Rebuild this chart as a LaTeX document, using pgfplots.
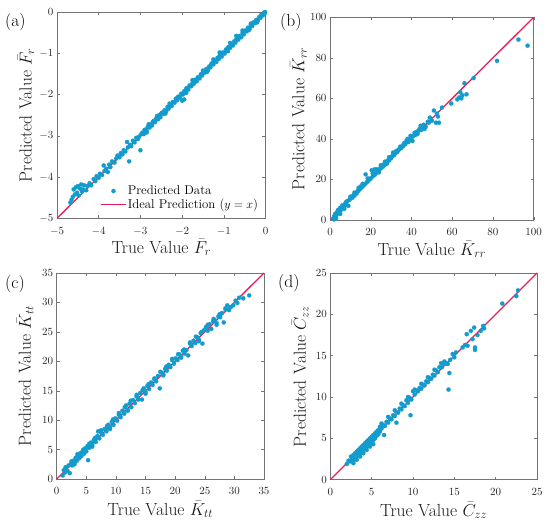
\documentclass[border=0pt]{standalone}
\usepackage{pgfplots}
\pgfplotsset{compat=1.18}
\definecolor{dotc}{RGB}{18,156,206}
\definecolor{linec}{RGB}{238,26,88}
\pgfplotsset{
  panel/.style={
    scale only axis,
    anchor=south west,
    tick align=inside,
    major tick length=3pt,
    axis line style={black!55, line width=0.5pt},
    tick style={black!55, line width=0.4pt},
    xtick pos=both, ytick pos=both,
    tick label style={font=\fontsize{11}{12}\selectfont, text=black!85},
    xticklabel style={inner sep=1pt, yshift=-7.5pt},
    label style={font=\fontsize{17.5}{20}\selectfont, text=black!90, inner sep=0.5pt},
    xlabel style={anchor=base},
    ylabel style={anchor=base},
  },
  dots/.style={only marks, mark=*, mark size=2.1pt, color=dotc, mark options={draw=dotc, fill=dotc, line width=0.2pt}},
  ideal/.style={linec, line width=1.3pt, no marks},
  dotleg/.style={legend image code/.code={\draw[mark repeat=2,mark phase=2,##1] plot coordinates {(0pt,0pt) (12.5pt,0pt) (25pt,0pt)};}},
  lineleg/.style={legend image code/.code={\draw[##1] (0pt,0pt) -- (25pt,0pt);}},
}
\begin{document}
\begin{tikzpicture}
\useasboundingbox (0,0) rectangle (550pt,527pt);
\node[anchor=north west, inner sep=0, font=\fontsize{17.5}{20}\selectfont] at (5pt,514pt) {(a)};
\node[anchor=north west, inner sep=0, font=\fontsize{17.5}{20}\selectfont] at (280pt,514pt) {(b)};
\node[anchor=north west, inner sep=0, font=\fontsize{17.5}{20}\selectfont] at (5pt,252pt) {(c)};
\node[anchor=north west, inner sep=0, font=\fontsize{17.5}{20}\selectfont] at (278pt,253pt) {(d)};

% (a)
\begin{axis}[panel, at={(57pt,308.7pt)}, width=208.5pt, height=206.3pt,
  xmin=-5, xmax=0, ymin=-5, ymax=0, xtick={-5,...,0}, ytick={-5,...,0},
  xlabel={True Value $\bar{F}_r$}, ylabel={Predicted Value $\bar{F}_r$},
  xlabel style={at={(axis description cs:0.5,-0.170)}},
  ylabel style={at={(axis description cs:-0.122,0.5)}},
  legend style={draw=none, fill=none, at={(0.985,0.025)}, anchor=south east,
    font=\fontsize{12.8}{14}\selectfont, nodes={inner sep=1.2pt}},
  legend cell align=left]
\addplot[dots, dotleg] coordinates {
(-4.68,-4.62) (-4.65,-4.55) (-4.62,-4.48) (-4.60,-4.30) (-4.57,-4.42) (-4.55,-4.25)
(-4.52,-4.38) (-4.50,-4.22) (-4.48,-4.45) (-4.45,-4.28) (-4.42,-4.18) (-4.40,-4.35)
(-4.38,-4.30) (-4.35,-4.20) (-4.30,-4.32) (-4.27,-4.22) (-4.22,-4.15) (-4.18,-4.20)
(-4.12,-4.05) (-4.08,-4.10) (-4.05,-3.98) (-4.00,-4.02) (-3.97,-3.92) (-3.92,-3.95)
(-3.88,-3.72) (-3.86,-3.85) (-3.82,-3.80) (-3.78,-3.88) (-3.75,-3.70) (-3.72,-3.76)
(-3.68,-3.62) (-3.62,-3.65) (-3.58,-3.55) (-3.55,-3.48) (-3.50,-3.52) (-3.47,-3.42)
(-3.43,-3.45) (-3.40,-3.35) (-3.36,-3.38) (-3.32,-3.15) (-3.30,-3.28) (-3.27,-3.62)
(-3.25,-3.22) (-3.22,-3.25) (-3.18,-3.12) (-3.14,-3.16) (-3.10,-3.05) (-3.06,-3.08)
(-3.03,-3.02) (-3.00,-3.35) (-2.98,-2.96)
(-2.95,-2.92) (-2.92,-2.96) (-2.88,-2.85) (-2.85,-2.88) (-2.82,-2.78) (-2.78,-2.80)
(-2.75,-2.72) (-2.72,-2.75) (-2.68,-2.64) (-2.65,-2.67) (-2.62,-2.58) (-2.58,-2.60)
(-2.55,-2.50) (-2.52,-2.55) (-2.48,-2.44) (-2.45,-2.47) (-2.42,-2.38) (-2.38,-2.40)
(-2.35,-2.30) (-2.32,-2.34) (-2.28,-2.25) (-2.25,-2.28) (-2.22,-2.18) (-2.18,-2.20)
(-2.15,-2.10) (-2.12,-2.14) (-2.08,-2.05) (-2.05,-2.08) (-2.02,-1.98) (-1.98,-2.00)
(-1.95,-1.92) (-1.92,-1.95) (-1.88,-1.84) (-1.85,-1.88) (-1.82,-1.78) (-1.78,-1.80)
(-1.75,-1.72) (-1.72,-1.74) (-1.68,-1.64) (-1.65,-1.68) (-1.62,-1.58) (-1.58,-1.61)
(-1.55,-1.51) (-1.52,-1.54) (-1.48,-1.45) (-1.45,-1.47) (-1.42,-1.38) (-1.38,-1.41)
(-1.35,-1.32) (-1.32,-1.34) (-1.28,-1.24) (-1.25,-1.27) (-1.22,-1.17) (-1.18,-1.21)
(-1.15,-1.11) (-1.12,-1.14) (-1.08,-1.04) (-1.05,-1.08) (-1.02,-0.98) (-0.98,-1.01)
(-0.95,-0.91) (-0.92,-0.94) (-0.88,-0.85) (-0.85,-0.87) (-0.82,-0.78) (-0.78,-0.81)
(-0.75,-0.71) (-0.72,-0.74) (-0.68,-0.65) (-0.65,-0.67) (-0.62,-0.58) (-0.58,-0.61)
(-0.55,-0.51) (-0.52,-0.54) (-0.48,-0.45) (-0.45,-0.47) (-0.42,-0.38) (-0.38,-0.41)
(-0.35,-0.31) (-0.32,-0.34) (-0.28,-0.25) (-0.25,-0.27) (-0.22,-0.19) (-0.18,-0.20)
(-0.15,-0.12) (-0.12,-0.14) (-0.09,-0.07) (-0.06,-0.08) (-0.04,-0.02) (-0.02,-0.04)
(-0.01,0.00)
(-2.00,-2.15) (-1.95,-2.12) (-2.30,-2.22) (-2.60,-2.52) (-1.10,-0.98) (-0.70,-0.58)
(-0.55,-0.45) (-1.50,-1.42) (-1.25,-1.15) (-0.35,-0.28) (-2.80,-2.72) (-1.75,-1.65)
(-0.85,-0.75) (-0.20,-0.25)
(-2.90,-2.86) (-2.70,-2.66) (-2.50,-2.46) (-2.30,-2.27) (-2.10,-2.06) (-1.90,-1.86)
(-1.70,-1.66) (-1.50,-1.47) (-1.30,-1.26) (-1.10,-1.06) (-0.90,-0.86) (-0.70,-0.66)
(-0.50,-0.46) (-0.30,-0.27) (-0.10,-0.07) (-2.85,-2.92) (-2.40,-2.46) (-1.90,-1.96)
(-1.40,-1.45) (-0.90,-0.95) (-0.40,-0.44)
};
\addlegendentry{Predicted Data}
\addplot[ideal, lineleg] coordinates {(-5,-5) (0,0)};
\addlegendentry{Ideal Prediction ($y=x$)}
\end{axis}

% (b)
\begin{axis}[panel, at={(330pt,307pt)}, width=203.7pt, height=202.7pt,
  xmin=0, xmax=100, ymin=0, ymax=100, xtick={0,20,...,100}, ytick={0,20,...,100},
  xlabel={True Value $\bar{K}_{rr}$}, ylabel={Predicted Value $\bar{K}_{rr}$},
  xlabel style={at={(axis description cs:0.5,-0.173)}},
  ylabel style={at={(axis description cs:-0.126,0.5)}}]
\addplot[dots] coordinates {
(1.5,0.5) (2,1.8) (2.5,3) (3,2) (3.5,4) (4,3.2) (4.5,5) (5,4.3) (5.5,6) (6,5.5)
(6.5,7) (7,6.5) (7.5,8.2) (8,7.5) (8.5,9.3) (9,7) (9.5,10) (10,10.5) (10.5,11.2) (11,11)
(11.5,12.3) (12,12) (12.5,13.3) (13,13) (13.5,14.2) (14,14.5) (14.5,15.3) (15,15.5)
(15.5,16.2) (16,16.5) (16.5,17.3) (17,17.5) (17.5,22.5) (18,18.5) (18.5,19.2) (19,19.5)
(19.5,20.3) (20,20.5) (20.5,24.5) (21,21.5) (21.5,22.3) (22,22.3) (22.5,23.2) (23,23.5)
(23.5,24.3) (24,24.5) (24.5,25.3) (25,25.5) (25.5,26.5) (26,26.3) (26.5,27.5) (27,27.3)
(27.5,28.5) (28,28.3) (28.5,29.5) (29,29.3) (29.5,30.5) (30,30.5) (30.5,31.5) (31,32.5)
(31.5,32) (32,33) (33,33.5) (33.5,34.5) (34,35) (35,35.5) (36,37) (36.5,38) (37,37.5)
(38,40) (38.5,38.5) (39,39.5) (40,40.5) (40.5,39) (41,41.5) (42,42) (42.5,43.5) (43,42.5)
(44,45) (44.5,46.5) (45,44.5) (46,47) (46.5,45) (47,46) (48,48.5) (50,49) (51,54) (52,48)
(52.5,52.5) (53,51) (53.5,48) (55,55.5) (59.5,57.5) (62.5,59.5) (63.5,60.5) (64,63)
(64.5,60) (65,61.5) (66,67.5) (67,62) (70.5,70) (82,78.5) (92.5,89) (97,86)
(2,0.3) (3,0.8) (5,3) (7,5.5) (5,6) (10,11.5) (15,16.5) (22,25) (25,27)
(18.5,20.5) (21,23) (23,25) (25,26.8) (27,28.8) (29,31) (31,33.3) (32.5,34) (34.5,36.2)
(24,23.5) (28,27.8) (12,13.5) (14,15.8) (16,17.8) (8,9) (6,7.2) (4,5) (36,36.5)
(37.5,39) (39.5,41.5) (43.5,44) (41.5,43) (48.5,48) (49,50.5)
};
\addplot[ideal] coordinates {(0,0) (100,100)};
\end{axis}

% (c)
\begin{axis}[panel, at={(56.7pt,48pt)}, width=207.3pt, height=206pt,
  xmin=0, xmax=35, ymin=0, ymax=35, xtick={0,5,...,35}, ytick={0,5,...,35},
  xlabel={True Value $\bar{K}_{tt}$}, ylabel={Predicted Value $\bar{K}_{tt}$},
  xlabel style={at={(axis description cs:0.5,-0.176)}},
  ylabel style={at={(axis description cs:-0.125,0.5)}}]
\addplot[dots] coordinates {
(1.0,0.6) (1.2,1.5) (1.4,1.1) (1.6,1.9) (1.8,1.4) (2.0,2.3) (2.2,1.0) (2.4,2.6) (2.6,2.3)
(2.8,3.1) (3.0,2.7) (3.2,3.6) (3.4,3.1) (3.6,4.0) (3.8,3.5) (4.0,4.4) (4.2,3.9) (4.4,4.8)
(4.6,4.3) (4.8,5.2) (5.0,4.7) (5.2,5.6) (5.3,3.2) (5.5,5.3) (5.8,6.2) (6.0,5.8) (6.3,6.7)
(6.6,6.3) (6.9,7.3) (7.0,8.1) (7.2,6.9) (7.5,7.9) (7.8,7.5) (8.1,8.5) (8.4,8.1) (8.7,9.2)
(9.0,8.8) (9.3,9.7) (9.6,9.2) (9.9,10.3) (10.2,9.9) (10.5,10.9) (10.8,10.5) (11.1,11.6)
(11.4,11.1) (11.7,12.5) (12.0,11.7) (12.3,12.8) (12.6,12.2) (12.9,13.4) (13.2,12.9)
(13.5,14.0) (13.8,13.5) (14.1,14.6) (14.4,13.5) (14.7,15.4) (15.0,14.8) (15.3,15.8)
(15.6,15.3) (15.9,16.4) (16.2,16.0) (16.5,16.9) (16.8,16.6) (17.1,17.5) (17.4,15.4)
(17.7,18.1) (18.0,17.8) (18.3,18.7) (18.6,18.4) (18.9,19.4) (19.2,19.0) (19.5,20.2)
(19.8,19.6) (20.1,20.5) (20.4,20.2) (20.7,21.2) (21.0,20.8) (21.3,21.8) (21.6,21.3)
(21.9,21.9) (22.2,21.0) (22.5,23.0) (22.8,22.6) (23.1,23.5) (23.4,23.1) (23.7,24.1)
(24.0,23.7) (24.3,24.8) (24.6,23.0) (24.9,25.3) (25.2,25.8) (25.5,25.2) (25.8,26.3)
(26.1,25.5) (26.4,26.8) (26.7,27.0) (27.0,26.2) (27.3,27.6) (27.6,27.5) (27.9,28.2)
(28.2,26.6) (28.5,28.8) (28.8,29.5) (29.1,28.7) (29.4,29.2) (29.8,29.5) (30.2,30.3)
(30.5,29.9) (30.8,30.8) (31.5,30.7) (32.5,31.2)
(1.5,2.0) (2.5,3.0) (3.5,4.2) (4.5,5.0) (5.5,6.0) (6.5,7.0) (7.5,8.3) (8.5,9.0)
(9.5,10.1) (10.5,11.2) (11.5,12.2) (12.5,13.3) (13.5,14.3) (14.5,15.1) (15.5,16.1)
(16.5,17.1) (17.5,18.2) (18.5,19.1) (19.5,20.4) (20.5,21.2) (21.5,22.0) (22.5,23.2)
(23.5,24.2) (24.5,25.0) (25.5,26.2) (26.5,27.2) (27.5,28.0) (28.5,29.0)
(3,2.5) (6,5.5) (9,8.5) (12,11.6) (15,14.5) (18,17.6) (21,20.6) (24,23.4) (27,26.5)
};
\addplot[ideal] coordinates {(0,0) (35,35)};
\end{axis}

% (d)
\begin{axis}[panel, at={(330.3pt,47.3pt)}, width=206.7pt, height=206.7pt,
  xmin=0, xmax=25, ymin=0, ymax=25, xtick={0,5,...,25}, ytick={0,5,...,25},
  xlabel={True Value $\bar{C}_{zz}$}, ylabel={Predicted Value $\bar{C}_{zz}$},
  xlabel style={at={(axis description cs:0.5,-0.176)}},
  ylabel style={at={(axis description cs:-0.118,0.5)}}]
\addplot[dots] coordinates {
(2.0,1.9) (2.2,2.3) (2.4,2.2) (2.5,2.8) (2.6,2.5) (2.8,2.4) (2.8,3.0) (3.0,2.6) (3.0,3.2)
(3.2,2.8) (3.2,3.4) (3.4,3.0) (3.4,3.6) (3.6,3.2) (3.6,3.8) (3.8,3.4) (3.8,4.0) (4.0,3.6)
(4.0,4.2) (4.2,3.8) (4.2,4.4) (4.4,4.0) (4.4,4.6) (4.6,4.2) (4.6,4.8) (4.8,4.4) (4.8,5.0)
(5.0,4.6) (5.0,5.2) (5.2,4.8) (5.2,5.4) (5.4,5.0) (5.4,5.6) (5.6,5.3) (5.6,5.8) (5.8,5.5)
(5.8,6.0) (6.0,6.4) (6.0,5.8) (6.2,6.2) (6.4,6.6) (6.5,5.4) (6.6,6.5) (6.8,7.0) (7.0,6.9)
(7.2,7.4) (7.4,7.3) (7.6,7.8) (7.8,7.7) (8.0,6.9) (8.0,8.2) (8.2,8.1) (8.4,8.6) (8.6,8.5)
(8.8,9.0) (9.0,8.9) (9.2,9.6) (9.4,9.3) (9.6,9.9) (9.7,7.8) (9.8,9.7) (10.0,10.7)
(10.2,10.3) (10.4,10.8) (10.6,10.7) (10.8,11.1) (11.0,11.0) (11.2,11.5) (11.4,11.4)
(11.6,11.9) (11.8,11.8) (12.0,12.3) (12.2,12.2) (12.4,12.7) (12.6,12.6) (12.8,13.2)
(13.0,13.0) (13.2,13.6) (13.5,13.6) (13.8,14.0) (14.0,14.1) (14.3,10.9) (14.4,12.9)
(14.5,14.5) (14.8,15.2) (15.0,14.8) (15.2,15.4) (16.0,16.0) (16.3,16.3) (16.5,17.6)
(16.6,16.2) (17.0,18.0) (17.2,17.0) (17.4,18.4) (17.5,16.0) (17.5,15.7) (17.8,17.5)
(18.2,18.0) (18.5,18.6) (18.6,18.3) (20.8,21.3) (22.5,22.2) (22.7,22.9)
(2.8,2.0) (3.2,2.4) (3.6,2.8) (4.0,3.2) (4.4,3.6) (4.8,4.0) (5.2,4.3)
(6.2,6.8) (7.0,7.6) (7.8,8.4) (8.6,9.2) (9.4,10.0) (10.2,10.9) (11.0,11.6) (11.8,12.4)
(12.6,13.3) (13.4,14.1) (13.8,14.3) (14.2,14.0)
};
\addplot[ideal] coordinates {(0,0) (25,25)};
\end{axis}
\end{tikzpicture}
\end{document}
